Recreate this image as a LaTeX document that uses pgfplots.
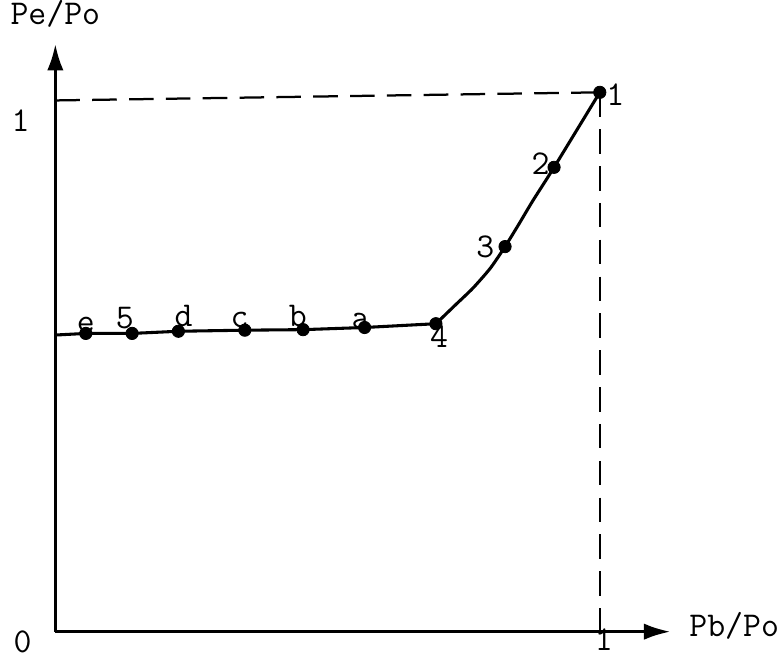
\documentclass[border=0pt]{standalone}
\usepackage{fontspec}
\usepackage{pgfplots}
\pgfplotsset{compat=1.18}
\usetikzlibrary{arrows.meta}
\begin{document}
\fontsize{17}{20}\selectfont\ttfamily
\begin{tikzpicture}
\begin{axis}[
  x=266pt, y=263.5pt,
  xmin=0, xmax=1.13, ymin=0, ymax=1.09,
  axis lines=left,
  axis line style={line width=1.6pt, -{Latex[length=13pt,width=8pt]}},
  xtick=\empty, ytick=\empty,
  clip=false,
]
% flat part
\addplot[line width=1.5pt] coordinates {
 (0,0.550) (0.056,0.553) (0.141,0.553) (0.226,0.557) (0.348,0.559) (0.455,0.560) (0.568,0.564) (0.699,0.571)
};
% rising part
\addplot[line width=1.5pt, smooth, tension=0.4] coordinates {
 (0.699,0.571) (0.735,0.606) (0.767,0.637) (0.799,0.674) (0.826,0.714) (0.851,0.755) (0.877,0.799) (0.916,0.861) (1,1)
};
% points
\addplot[only marks, mark=*, mark size=3pt] coordinates {
 (0.056,0.553) (0.141,0.553) (0.226,0.557) (0.348,0.559) (0.455,0.560) (0.568,0.564) (0.699,0.571) (0.826,0.714) (0.916,0.861) (1,1)
};
% dashed guides
\draw[line width=1.1pt, dash pattern=on 12pt off 6pt] (axis cs:0,0.985) -- (axis cs:1,1);
\draw[line width=1.1pt, dash pattern=on 12pt off 6pt] (axis cs:1,1) -- (axis cs:1,0);
% point labels
\node[anchor=south, inner sep=0pt] at (axis cs:0.056,0.553) {e};
\node[anchor=south, inner sep=0pt, xshift=-3.5pt, yshift=2pt] at (axis cs:0.141,0.553) {5};
\node[anchor=south, inner sep=0pt, xshift=2.5pt, yshift=2pt] at (axis cs:0.226,0.557) {d};
\node[anchor=south, inner sep=0pt, xshift=-2.5pt, yshift=1pt] at (axis cs:0.348,0.559) {c};
\node[anchor=south, inner sep=0pt, xshift=-2.5pt, yshift=1pt] at (axis cs:0.455,0.560) {b};
\node[anchor=south, inner sep=0pt, xshift=-2pt, yshift=-1pt] at (axis cs:0.568,0.564) {a};
\node[anchor=north, inner sep=0pt, xshift=1.5pt, yshift=-1pt] at (axis cs:0.699,0.571) {4};
\node[anchor=east, inner sep=0pt, xshift=-5pt] at (axis cs:0.826,0.714) {3};
\node[anchor=east, inner sep=0pt, xshift=-2pt, yshift=2pt] at (axis cs:0.916,0.861) {2};
\node[anchor=west, inner sep=0pt, xshift=3pt, yshift=-1pt] at (axis cs:1,1) {1};
% axis labels
\node[anchor=center] at ([xshift=-16pt, yshift=-5pt]axis cs:0,0) {0};
\node[anchor=center] at ([xshift=-17pt]axis cs:0,0.947) {1};
\node[anchor=center] at ([xshift=2pt, yshift=-4pt]axis cs:1,0) {1};
\node[anchor=west, inner sep=0pt] at ([xshift=9pt]axis cs:1.13,0.01) {Pb/Po};
\node[anchor=south, inner sep=0pt] at ([yshift=8pt]axis cs:0,1.09) {Pe/Po};
\end{axis}
\end{tikzpicture}
\end{document}
